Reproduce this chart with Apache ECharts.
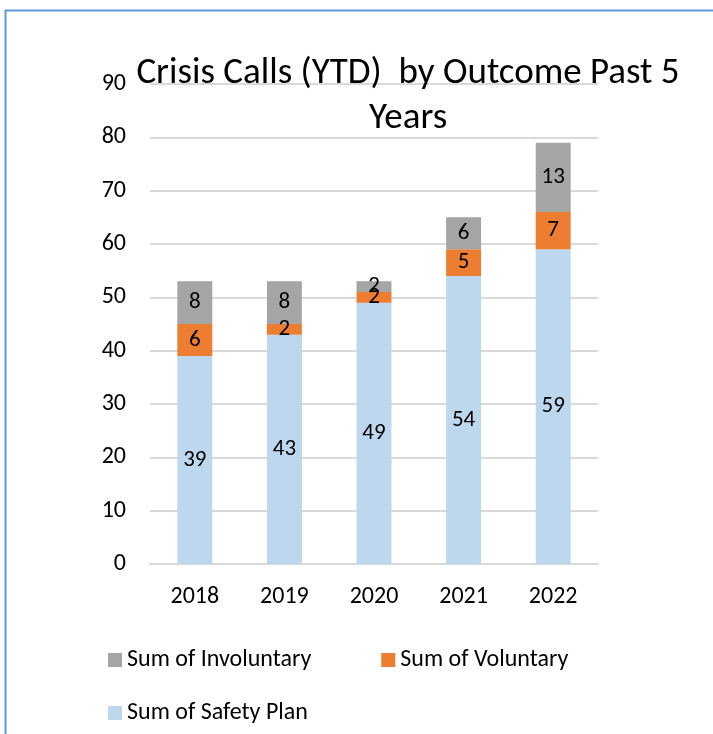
<!DOCTYPE html>
<html>
<head>
<meta charset="utf-8">
<script src="https://cdn.jsdelivr.net/npm/echarts@6/dist/echarts.min.js"></script>
<style>html,body{margin:0;padding:0;background:#fff;}#c{width:713px;height:734px;}</style>
</head>
<body>
<div id="c"></div>
<script>
var categories = ['2018', '2019', '2020', '2021', '2022'];
var safetyPlan = [39, 43, 49, 54, 59];
var voluntary = [6, 2, 2, 5, 7];
var involuntary = [8, 8, 2, 6, 13];
var yTicks = [0, 10, 20, 30, 40, 50, 60, 70, 80, 90];

var FONT = "Carlito, 'Liberation Sans Narrow', 'Open Sans', sans-serif";
var chart = echarts.init(document.getElementById('c'), null, {renderer: 'canvas'});
var lbl = {show: true, position: 'inside', color: '#000', fontSize: 23, fontFamily: FONT};
chart.setOption({
  animation: false,
  backgroundColor: '#fff',
  title: {
    text: 'Crisis Calls (YTD)  by Outcome Past 5\nYears',
    left: 403, top: 46, textAlign: 'center',
    textStyle: {fontSize: 37, fontWeight: 'normal', color: '#000', fontFamily: FONT, lineHeight: 45}
  },
  grid: {left: 150, right: 115, top: 84, bottom: 170},
  legend: [
    {data: ['Sum of Involuntary', 'Sum of Voluntary'], left: 108, top: 648, padding: 0, itemWidth: 14, itemHeight: 14, itemGap: 70,
     icon: 'rect', textStyle: {fontSize: 24, color: '#000', fontFamily: FONT}},
    {data: ['Sum of Safety Plan'], left: 108, top: 701, padding: 0, itemWidth: 14, itemHeight: 14,
     icon: 'rect', textStyle: {fontSize: 24, color: '#000', fontFamily: FONT}}
  ],
  xAxis: {
    type: 'category', data: categories,
    axisLine: {lineStyle: {color: '#D9D9D9', width: 2}}, axisTick: {show: false},
    axisLabel: {color: '#000', fontSize: 24, fontFamily: FONT, margin: 21}
  },
  yAxis: {
    type: 'value', min: yTicks[0], max: yTicks[yTicks.length - 1], interval: 10,
    axisLine: {show: false}, axisTick: {show: false},
    splitLine: {lineStyle: {color: '#D9D9D9', width: 2}},
    axisLabel: {color: '#000', fontSize: 24, fontFamily: FONT, margin: 24}
  },
  series: [
    {name: 'Sum of Safety Plan', type: 'bar', stack: 's', data: safetyPlan, barWidth: '39%',
     itemStyle: {color: '#BDD7EE'}, label: lbl},
    {name: 'Sum of Voluntary', type: 'bar', stack: 's', data: voluntary,
     itemStyle: {color: '#ED7D31'}, label: lbl},
    {name: 'Sum of Involuntary', type: 'bar', stack: 's', data: involuntary,
     itemStyle: {color: '#A5A5A5'}, label: lbl}
  ],
  graphic: [
    {type: 'line', shape: {x1: 5.5, y1: 10, x2: 5.5, y2: 734}, style: {stroke: '#5B9BD5', lineWidth: 2}},
    {type: 'line', shape: {x1: 5, y1: 10.5, x2: 713, y2: 10.5}, style: {stroke: '#5B9BD5', lineWidth: 2}}
  ]
});
</script>
</body>
</html>
